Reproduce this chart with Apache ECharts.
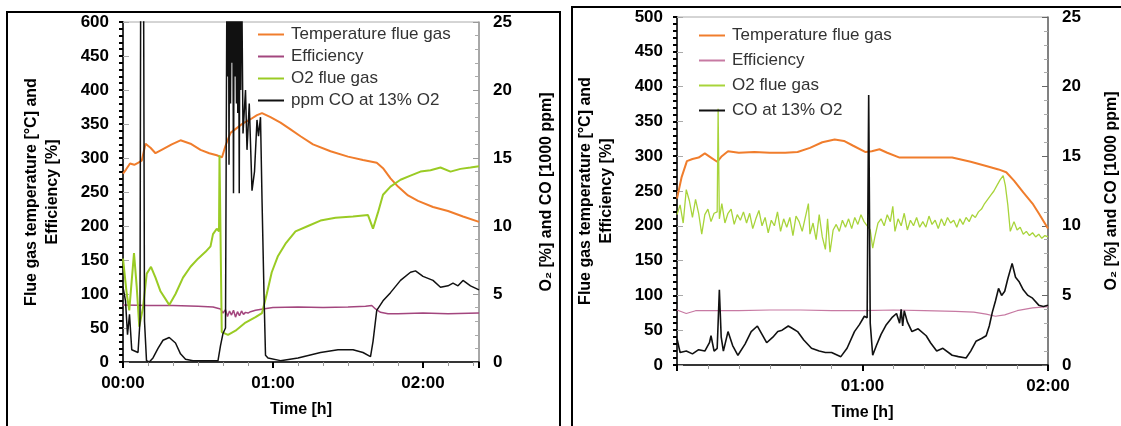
<!DOCTYPE html>
<html>
<head>
<meta charset="utf-8">
<script src="https://cdn.jsdelivr.net/npm/echarts@6/dist/echarts.min.js"></script>
<style>
  html, body { margin: 0; padding: 0; background: #fff; }
  #chart { width: 1121px; height: 426px; }
</style>
</head>
<body>
<div id="chart"></div>
<script>
// ---- left panel (minutes since start) ----
const tempLeftT = [0, 1.2, 2.8, 4.5, 6, 7.5, 9, 11, 13, 16, 19.5, 23, 27, 31, 34.5, 37.5, 39.6, 41, 43, 45.5, 48, 51, 53.6, 55.6, 59, 63, 67, 71, 76, 83, 90, 96, 101.5, 104, 107, 110, 114, 118, 124, 130, 136, 142.4];
const tempLeftV = [277, 283, 292, 290, 293, 296, 321, 315, 307, 313, 320, 326, 321, 312, 307, 304, 301, 318, 337, 344, 351, 357, 363, 366, 360, 352, 342, 332, 320, 310, 302, 297, 293, 285, 270, 258, 245, 237, 228, 222, 214, 206];

const effLeftT = [0, 10, 20, 30, 36, 39, 40, 41, 41.8, 42.6, 43.4, 44.2, 45, 45.8, 46.6, 47.4, 48.2, 49, 50, 51, 53, 56, 60, 70, 80, 90, 97, 99.5, 101, 103, 106, 110, 120, 130, 142.4];
const effLeftV = [84, 83, 83, 82, 81, 78, 72, 77, 67, 75, 69, 76, 66, 74, 68, 75, 70, 73, 72, 74, 76, 78, 80, 81, 80, 81, 82, 83, 78, 73, 71, 71, 72, 71, 72];

const o2LeftT = [0, 1.5, 2.5, 4.4, 5.5, 6.5, 8, 9.5, 11.2, 13, 15, 18.5, 21, 24, 27, 30, 33, 35, 36, 37.5, 38.4, 38.6, 39.5, 42, 45, 49, 53, 55.6, 57.5, 59.5, 62, 65, 69, 74, 79, 85, 92, 98, 100, 102, 104, 107, 111, 115, 119, 123, 127, 131, 135, 139, 142.4];
const o2LeftV = [7.6, 5.0, 3.8, 8.0, 5.5, 2.6, 4.0, 6.5, 7.0, 6.2, 5.2, 4.2, 5.0, 6.2, 7.0, 7.6, 8.1, 8.5, 9.4, 9.8, 9.6, 15.2, 2.2, 2.0, 2.3, 2.9, 3.3, 3.6, 5.0, 6.6, 7.8, 8.7, 9.6, 10.0, 10.4, 10.6, 10.7, 10.8, 9.8, 11.0, 12.3, 12.9, 13.4, 13.7, 14.0, 14.1, 14.3, 14.0, 14.2, 14.3, 14.4];

const coLeftT = [0, 1, 1.8, 2.6, 3.5, 6, 6.8, 7.1, 8.2, 8.6, 9.4, 10.5, 12, 14, 16, 18.5, 21, 23, 25, 28, 38, 39, 40, 41, 41.6, 41.9, 42.2, 42.4, 42.7, 43, 43.3, 43.6, 43.9, 44.2, 44.5, 44.8, 45.1, 45.4, 45.7, 45.9, 46.2, 46.5, 46.8, 47.1, 47.4, 48, 49, 49.6, 50.5, 51.6, 52.6, 53.6, 54.2, 55, 55.6, 56.4, 57, 58, 63, 70, 79, 86, 92, 96, 99, 100, 101.5, 104, 107, 111, 115, 117, 120, 124, 127, 130, 132, 134, 136, 139, 142.4];
const coLeftV = [5.5, 4.5, 2.0, 3.5, 0.9, 0.7, 3.0, 30, 30, 3.0, 0.1, 0, 0.3, 1.0, 1.6, 1.8, 1.4, 0.6, 0.2, 0.1, 0.1, 1.2, 2.1, 2.5, 30, 21, 30, 14.5, 30, 19, 30, 22, 30, 12.4, 30, 21, 30, 19, 30, 18.3, 30, 12.4, 30, 20, 30, 16.8, 20, 15.6, 19, 12.6, 14, 17.8, 16.6, 18, 12, 5, 0.5, 0.3, 0.1, 0.3, 0.7, 0.9, 0.9, 0.7, 0.4, 1.5, 3.8, 4.5, 5.1, 6.0, 6.6, 6.7, 6.3, 6.0, 5.5, 5.6, 5.8, 5.6, 6.0, 5.6, 5.3];

// ---- right panel (minutes since start) ----
const tempRightT = [0, 1.5, 3.2, 5, 7, 9, 11, 13, 14.5, 16.5, 20, 25, 30, 35, 39, 43, 47, 51, 54, 57, 61, 63, 65.5, 68, 72, 80, 89, 95, 100, 104, 106.5, 109, 112, 115, 117, 120];
const tempRightV = [239, 270, 293, 296, 298, 304, 298, 292, 300, 307, 305, 306, 305, 305, 306, 312, 320, 324, 322, 315, 306, 307, 310, 305, 298, 298, 298, 292, 286, 281, 277, 265, 248, 232, 218, 196];

const effRightT = [0, 3, 6, 10, 20, 30, 40, 50, 60, 70, 80, 90, 96, 100, 103, 106, 110, 115, 120];
const effRightV = [79, 74, 78, 78, 78, 79, 79, 78, 78, 79, 78, 77, 76, 73, 70, 72, 78, 82, 84];

const o2RightT = [0, 1, 2, 3, 4, 5, 6, 7, 8, 9, 10, 11, 12, 13, 13.3, 13.7, 14.5, 15.5, 16.5, 17.5, 18.5, 19.5, 20.5, 21.5, 22.5, 23.5, 24.5, 25.5, 26.5, 27.5, 28.5, 29.5, 30.5, 31.5, 32.5, 33.5, 34.5, 35.5, 36.5, 37.5, 38.5, 39.5, 40.5, 41.5, 42.5, 43, 44, 45, 46, 47, 48, 48.7, 49.5, 50.5, 51.5, 52.5, 53.5, 54.5, 55.5, 56.5, 57.5, 58.5, 59.5, 60.5, 61.5, 62.5, 63.3, 64, 65, 66, 67, 68, 69, 69.8, 70.5, 71.5, 72.5, 73.5, 74.5, 75.5, 76.5, 77.5, 78.5, 79.5, 80.5, 81.5, 82.5, 83.5, 84.5, 85.5, 86.5, 87.5, 88.5, 89.5, 90.5, 91.5, 92.5, 93.5, 94.5, 95.5, 96.5, 97.5, 98.5, 99.5, 100.5, 101.5, 102.5, 103.5, 104.5, 105.5, 106.2, 107, 107.8, 109, 110, 111, 112, 113, 114, 115, 116, 117, 118, 119, 120];
const o2RightV = [10.8, 11.5, 10.2, 12.6, 11.8, 10.6, 11.9, 10.9, 9.4, 10.8, 11.2, 10.3, 10.9, 11.0, 18.4, 10.5, 11.6, 10.2, 10.9, 11.2, 10.1, 10.8, 10.4, 11.0, 10.2, 10.9, 9.8, 10.5, 11.1, 10.0, 10.6, 9.5, 10.4, 10.0, 11.0, 9.6, 10.5, 9.9, 10.6, 9.3, 10.7, 10.3, 9.6, 10.6, 11.6, 9.4, 10.2, 9.0, 10.8, 9.2, 8.3, 10.5, 8.1, 9.7, 10.1, 9.6, 10.4, 9.9, 10.5, 9.8, 10.6, 10.1, 10.8, 10.3, 10.0, 9.7, 8.4, 9.2, 10.2, 10.5, 10.0, 10.8, 10.3, 11.4, 9.6, 10.5, 10.0, 10.9, 9.7, 10.4, 10.0, 10.6, 9.9, 10.3, 9.9, 10.7, 10.1, 10.4, 9.8, 10.5, 10.0, 10.6, 10.2, 10.4, 9.9, 10.5, 10.1, 10.6, 10.3, 10.8, 10.6, 11.0, 11.2, 11.6, 11.9, 12.2, 12.5, 12.9, 13.3, 13.6, 12.9, 11.5, 9.6, 10.3, 9.7, 9.9, 9.4, 9.6, 9.3, 9.5, 9.2, 9.4, 9.1, 9.3, 9.2];

const coRightT = [0, 1, 3, 5, 7, 9, 10.5, 11, 12, 13, 13.7, 14.3, 15, 16.5, 18, 19.7, 22, 24, 26, 27.5, 29, 31, 32.6, 34, 36, 37.5, 39, 41, 43.5, 46, 48, 50, 53, 55, 57.4, 59, 60.6, 61.5, 62, 62.5, 63.3, 64.5, 66, 67.7, 69.5, 71, 72, 72.5, 73, 73.5, 74.5, 76, 78, 80.6, 82, 84, 86, 89, 91, 93.5, 95, 96.7, 98.5, 100, 101, 102, 103, 104, 105, 106, 107, 108.4, 109.5, 110.6, 112, 113.5, 115, 117, 118.5, 120];
const coRightV = [1.9, 0.9, 1.0, 0.8, 1.1, 1.0, 1.6, 2.1, 1.0, 1.2, 5.4, 2.0, 1.0, 2.4, 1.4, 0.7, 1.5, 2.4, 2.8, 2.2, 1.6, 2.0, 2.4, 2.5, 2.8, 2.6, 2.4, 1.8, 1.2, 1.0, 0.9, 0.9, 0.6, 1.2, 2.4, 2.9, 3.5, 3.4, 19.4, 3.0, 0.7, 1.4, 2.2, 2.9, 3.4, 3.7, 3.0, 4.0, 2.8, 3.9, 3.1, 2.4, 2.6, 2.1, 1.6, 1.0, 1.2, 0.7, 0.6, 0.5, 1.0, 1.7, 1.9, 2.1, 2.8, 3.8, 4.6, 5.5, 5.0, 5.3, 6.2, 7.3, 6.3, 6.0, 5.4, 5.0, 4.8, 4.3, 4.2, 4.3];

function pairs(t, v) {
  return t.map((x, i) => [x, v[i]]);
}

function hhmm(v) {
  const h = Math.round(v / 60);
  return (h < 10 ? '0' : '') + h + ':00';
}

const FONT = 'Liberation Sans, Arial, sans-serif';
const labelStyle = { color: '#000', fontWeight: 'bold', fontSize: 17, fontFamily: FONT };
const nameStyle = { color: '#000', fontWeight: 'bold', fontSize: 16, fontFamily: FONT };

const grids = [
  { left: 123, top: 22, width: 356, height: 340 },
  { left: 677, top: 17, width: 372, height: 350 }
];

function xAxisFor(gi, max, showZero) {
  return {
    type: 'value', gridIndex: gi, min: 0, max: max, interval: 60,
    name: 'Time [h]', nameLocation: 'middle', nameGap: 40, nameTextStyle: nameStyle,
    axisLine: { lineStyle: { color: '#000', width: 1.5 } },
    axisTick: { length: 6, lineStyle: { color: '#000', width: 2 } },
    minorTick: { show: true, splitNumber: 6, length: 4, lineStyle: { color: '#999' } },
    splitLine: { show: false },
    axisLabel: Object.assign({}, labelStyle, {
      margin: 13,
      formatter: v => (v % 60 === 0 && (showZero || v > 0)) ? hhmm(v) : ''
    })
  };
}

function leftAxisFor(gi, gap) {
  return {
    type: 'value', gridIndex: gi, position: 'left', min: 0, max: 500, interval: 50,
    name: 'Flue gas temperature [°C] and\nEfficiency [%]', nameLocation: 'middle',
    nameGap: gap, nameRotate: 90, nameTextStyle: Object.assign({}, nameStyle, { lineHeight: 21 }),
    axisLine: { show: true, lineStyle: { color: '#000', width: 1.5 } },
    axisTick: { length: 4, lineStyle: { color: '#000', width: 2 } },
    minorTick: { show: true, splitNumber: 5, length: 4, lineStyle: { color: '#000', width: 2 } },
    splitLine: { show: false },
    axisLabel: Object.assign({}, labelStyle, {
      margin: 14,
      // the source figure prints "600" at the top tick
      formatter: v => (gi === 0 && v === 500) ? '600' : String(v)
    })
  };
}

function innerTicksFor(gi) {
  return {
    type: 'value', gridIndex: gi, position: 'left', min: 0, max: 500, interval: 50,
    axisLine: { show: false },
    axisTick: { inside: true, length: 6, lineStyle: { color: '#aaa' } },
    axisLabel: { show: false }, splitLine: { show: false }
  };
}

function rightAxisFor(gi, gap, color) {
  return {
    type: 'value', gridIndex: gi, position: 'right', min: 0, max: 25, interval: 5,
    name: 'O₂ [%] and CO [1000 ppm]', nameLocation: 'middle', nameGap: gap, nameRotate: 90,
    nameTextStyle: nameStyle,
    axisLine: { show: true, lineStyle: { color: color, width: 1.5 } },
    axisTick: { inside: true, length: 6, lineStyle: { color: color } },
    minorTick: { show: true, splitNumber: 5, length: 4, lineStyle: { color: '#aaa' } },
    splitLine: { show: false },
    axisLabel: Object.assign({}, labelStyle, { margin: 14 })
  };
}

function line(name, xi, yi, data, color, width) {
  return {
    name: name, type: 'line', xAxisIndex: xi, yAxisIndex: yi, data: data,
    showSymbol: false, symbol: 'none', clip: true,
    lineStyle: { color: color, width: width }, itemStyle: { color: color }
  };
}

function legendFor(left, top, gap, items) {
  return {
    orient: 'vertical', left: left, top: top, itemGap: gap,
    icon: 'rect', itemWidth: 26, itemHeight: 2,
    textStyle: { color: '#333', fontSize: 17, fontFamily: FONT, padding: [0, 0, 0, 2] },
    data: items.map(it => ({ name: it[0], itemStyle: { color: it[1] } }))
  };
}

const ORANGE = '#f07d2c', PLUM = '#a3467e', LIME = '#9acb24', BLACK = '#111';

const option = {
  animation: false,
  backgroundColor: '#fff',
  grid: grids.map(g => Object.assign({ show: true, borderColor: '#aaa', borderWidth: 1 }, g)),
  xAxis: [xAxisFor(0, 142.4, true), xAxisFor(1, 120, false)],
  yAxis: [
    leftAxisFor(0, 60), rightAxisFor(0, 60, '#999'), innerTicksFor(0),
    leftAxisFor(1, 60), rightAxisFor(1, 56, '#666'), innerTicksFor(1)
  ],
  legend: [
    legendFor(253, 21, 5, [['Temperature flue gas', ORANGE], ['Efficiency', PLUM], ['O2 flue gas', LIME], ['ppm CO at 13% O2', BLACK]]),
    legendFor(694, 22, 8, [['Temperature flue gas', ORANGE], ['Efficiency', '#c77aa3'], ['O2 flue gas', '#a8d43a'], ['CO at 13% O2', BLACK]])
  ],
  graphic: [
    { type: 'rect', shape: { x: 7, y: 12, width: 553, height: 440 }, style: { fill: 'none', stroke: '#000', lineWidth: 2 }, silent: true },
    { type: 'rect', shape: { x: 572, y: 7, width: 570, height: 440 }, style: { fill: 'none', stroke: '#000', lineWidth: 2 }, silent: true }
  ],
  series: [
    line('Temperature flue gas', 0, 0, pairs(tempLeftT, tempLeftV), ORANGE, 2),
    line('Efficiency', 0, 0, pairs(effLeftT, effLeftV), PLUM, 1.5),
    line('O2 flue gas', 0, 1, pairs(o2LeftT, o2LeftV), LIME, 2),
    line('ppm CO at 13% O2', 0, 1, pairs(coLeftT, coLeftV), BLACK, 1.5),
    line('Temperature flue gas', 1, 3, pairs(tempRightT, tempRightV), ORANGE, 2),
    line('Efficiency', 1, 3, pairs(effRightT, effRightV), '#c77aa3', 1.2),
    line('O2 flue gas', 1, 4, pairs(o2RightT, o2RightV), '#a8d43a', 1.3),
    line('CO at 13% O2', 1, 4, pairs(coRightT, coRightV), BLACK, 1.6)
  ]
};

const chart = echarts.init(document.getElementById('chart'));
chart.setOption(option);
</script>
</body>
</html>
